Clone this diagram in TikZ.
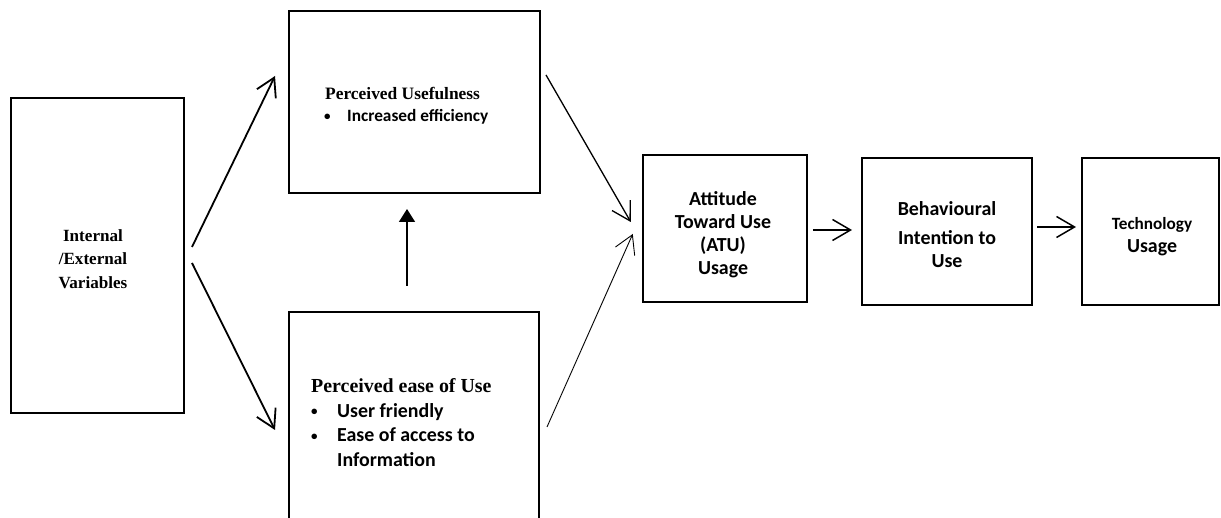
\documentclass[tikz,border=0pt]{standalone}
\usepackage{fontspec}
\setmainfont{Liberation Serif}
\newfontfamily\carlito{Carlito}
\newcommand\blt[1]{\makebox[#1][l]{\raisebox{1.5pt}{\fontsize{13}{13}\selectfont\textbullet}}}
\usetikzlibrary{arrows.meta}

\begin{document}
\begin{tikzpicture}[x=1pt,y=1pt,
  box/.style={draw, line width=2pt, inner sep=0pt},
  txt/.style={inner sep=0pt, align=center, font=\carlito\bfseries\fontsize{19.9}{23}\selectfont},
  serif/.style={inner sep=0pt, align=center, font=\rmfamily\bfseries\fontsize{17.1}{23.5}\selectfont},
  arr/.style={-{Straight Barb[length=18pt,width=21pt]}}]
  \path[use as bounding box, clip] (0,0) rectangle (1221,518);
  \node[box, minimum width=173pt, minimum height=315pt] (ivar) at (97.5,262.5) {};
  \node[box, minimum width=251pt, minimum height=182pt] (pu) at (414.5,416) {};
  \node[box, minimum width=250pt, minimum height=250pt] (peu) at (414,81) {};
  \node[box, minimum width=164.5pt, minimum height=147pt] (atu) at (725,289.5) {};
  \node[box, minimum width=170pt, minimum height=147pt] (bi) at (947,286.5) {};
  \node[box, minimum width=137pt, minimum height=147pt] (tu) at (1150.5,286.5) {};
  \node[serif] (ivartext) at (93,259) {Internal\\/External\\Variables};
  \node[txt, anchor=west, align=left, font=\carlito\bfseries\fontsize{17.3}{22}\selectfont] (putext) at (324,412)
    {\hspace*{1pt}{\rmfamily\fontsize{17.4}{22}\selectfont Perceived Usefulness}\\
     \blt{23pt}Increased efficiency};
  \node[txt, anchor=west, align=left, font=\carlito\bfseries\fontsize{19.9}{24.5}\selectfont] (peutext) at (311,95.5)
    {{\rmfamily Perceived ease of Use}\\
     \blt{26pt}User friendly\\
     \blt{26pt}Ease of access to\\
     \hspace*{26pt}Information};
  \node[txt] (atutext) at (723,283.5) {Attitude\\Toward Use\\(ATU)\\Usage};
  \node[txt] (bitext) at (947,283) {Behavioural\\[6pt]Intention to\\Use};
  \node[txt] (tutext) at (1152,281.5) {{\fontsize{17.2}{23}\selectfont Technology}\\Usage};
  \draw[arr, line width=1.8pt] ([shift={(7,8.5)}]ivar.east) -- ([shift={(-13,26)}]pu.west);
  \draw[arr, line width=1.8pt] ([shift={(7,-7.5)}]ivar.east) -- ([shift={(-13,7)}]peu.west);
  \draw[line width=1.6pt, -{Triangle[length=13pt,width=16pt]}] ([shift={(-7,25)}]peu.north) -- ([shift={(-7.5,-15)}]pu.south);
  \draw[arr, line width=1.3pt] ([shift={(5,27)}]pu.east) -- ([shift={(-11,6.5)}]atu.west);
  \draw[arr, line width=0.9pt] ([shift={(7,10)}]peu.east) -- ([shift={(-9,-5.5)}]atu.west);
  \draw[arr, line width=1.5pt] ([shift={(4.5,-1.5)}]atu.east) -- ([shift={(-9,1.5)}]bi.west);
  \draw[arr, line width=1.5pt] ([shift={(4,4.5)}]bi.east) -- ([shift={(-5,4.5)}]tu.west);
\end{tikzpicture}
\end{document}
